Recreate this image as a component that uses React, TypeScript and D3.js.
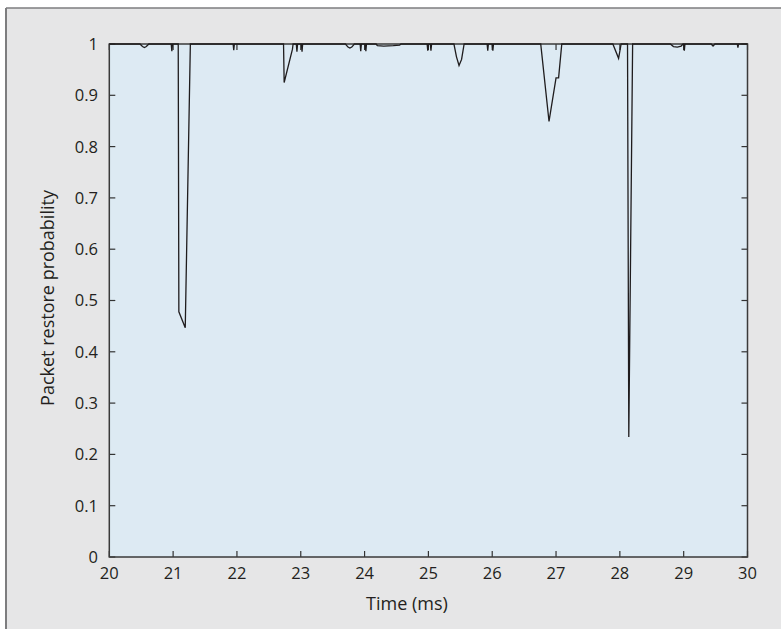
import React from "react";
import * as d3 from "d3";

const times: number[] = [
  20.0, 20.48, 20.52, 20.55, 20.58, 20.62,
  20.97, 20.98, 20.99,
  21.08, 21.09, 21.19, 21.27,
  21.94, 21.95, 21.96,
  22.73, 22.74, 22.87, 22.88,
  22.93, 22.94, 22.95,
  23.01, 23.02, 23.03,
  23.7, 23.74, 23.77, 23.8, 23.84,
  23.93, 23.94, 23.95,
  24.01, 24.02, 24.03,
  24.18, 24.2, 24.3, 24.45, 24.55, 24.57,
  24.98, 24.99, 25.0,
  25.03, 25.04, 25.05,
  25.4, 25.44, 25.48, 25.52, 25.56,
  25.92, 25.93, 25.94,
  26.0, 26.01, 26.02,
  26.76, 26.89, 27.0, 27.04, 27.09,
  27.89, 27.98, 28.02,
  28.12, 28.14, 28.2,
  28.79, 28.84, 28.9, 28.96, 28.99,
  29.0, 29.01, 29.02,
  29.43, 29.46, 29.49,
  29.84, 29.85, 29.86,
  30.0,
];

const probability: number[] = [
  1.0, 1.0, 0.995, 0.993, 0.995, 1.0,
  1.0, 0.986, 1.0,
  1.0, 0.478, 0.447, 1.0,
  1.0, 0.988, 1.0,
  1.0, 0.925, 0.99, 1.0,
  1.0, 0.985, 1.0,
  1.0, 0.985, 1.0,
  1.0, 0.994, 0.992, 0.994, 1.0,
  1.0, 0.986, 1.0,
  1.0, 0.986, 1.0,
  1.0, 0.997, 0.996, 0.997, 0.998, 1.0,
  1.0, 0.987, 1.0,
  1.0, 0.987, 1.0,
  1.0, 0.975, 0.958, 0.97, 1.0,
  1.0, 0.987, 1.0,
  1.0, 0.987, 1.0,
  1.0, 0.849, 0.934, 0.934, 1.0,
  1.0, 0.972, 1.0,
  1.0, 0.234, 1.0,
  1.0, 0.995, 0.994, 0.996, 1.0,
  1.0, 0.987, 1.0,
  1.0, 0.996, 1.0,
  1.0, 0.993, 1.0,
  1.0,
];

const xTicks: number[] = [20, 21, 22, 23, 24, 25, 26, 27, 28, 29, 30];
const yTicks: number[] = [0, 0.1, 0.2, 0.3, 0.4, 0.5, 0.6, 0.7, 0.8, 0.9, 1];

const W = 781;
const H = 629;
const left = 109.3;
const right = 747.5;
const top = 44;
const bottom = 557;

export default function App() {
  const x = d3.scaleLinear().domain([20, 30]).range([left, right]);
  const y = d3.scaleLinear().domain([0, 1]).range([bottom, top]);
  const pts: [number, number][] = times.map((t, i) => [t, probability[i]]);
  const line = d3
    .line<[number, number]>()
    .x((d) => x(d[0]))
    .y((d) => y(d[1]));
  const font = "'Open Sans', 'Noto Sans', sans-serif";
  const textColor = "#231f20";
  const tickLen = 6;

  return (
    <svg
      width={W}
      height={H}
      style={{ position: "absolute", left: 0, top: 0, display: "block" }}
      fontFamily={font}
    >
      <rect x={0} y={0} width={W} height={H} fill="#ffffff" />
      <rect x={6} y={8} width={W - 6} height={H - 8} fill="#e6e6e7" />
      <line x1={6} y1={8} x2={W} y2={8} stroke="#7d7d7f" strokeWidth={1.6} />
      <line x1={6} y1={8} x2={6} y2={H} stroke="#7d7d7f" strokeWidth={2} />

      <rect
        x={left}
        y={top}
        width={right - left}
        height={bottom - top}
        fill="#ddeaf3"
      />

      {xTicks.map((t) => (
        <g key={"xt" + t}>
          <line x1={x(t)} x2={x(t)} y1={bottom} y2={bottom - tickLen} stroke="#333" strokeWidth={1.2} />
          <line x1={x(t)} x2={x(t)} y1={top} y2={top + tickLen} stroke="#333" strokeWidth={1.2} />
          <text
            x={x(t)}
            y={579}
            textAnchor="middle"
            fontSize={16.5}
            fill={textColor}
          >
            {t}
          </text>
        </g>
      ))}
      {yTicks.map((v) => (
        <g key={"yt" + v}>
          <line x1={left} x2={left + tickLen} y1={y(v)} y2={y(v)} stroke="#333" strokeWidth={1.2} />
          <line x1={right} x2={right - tickLen} y1={y(v)} y2={y(v)} stroke="#333" strokeWidth={1.2} />
          <text
            x={98}
            y={y(v)}
            dy="0.36em"
            textAnchor="end"
            fontSize={16.5}
            fill={textColor}
          >
            {v}
          </text>
        </g>
      ))}

      <rect
        x={left}
        y={top}
        width={right - left}
        height={bottom - top}
        fill="none"
        stroke="#3a3a3a"
        strokeWidth={1.5}
      />

      <path
        d={line(pts) || ""}
        fill="none"
        stroke="#1f1c1d"
        strokeWidth={1.3}
        strokeLinejoin="miter"
      />

      <text
        x={407}
        y={610}
        textAnchor="middle"
        fontSize={18}
        fill={textColor}
      >
        Time (ms)
      </text>
      <text
        transform={`translate(54, 298) rotate(-90)`}
        textAnchor="middle"
        fontSize={18}
        fill={textColor}
      >
        Packet restore probability
      </text>
    </svg>
  );
}
